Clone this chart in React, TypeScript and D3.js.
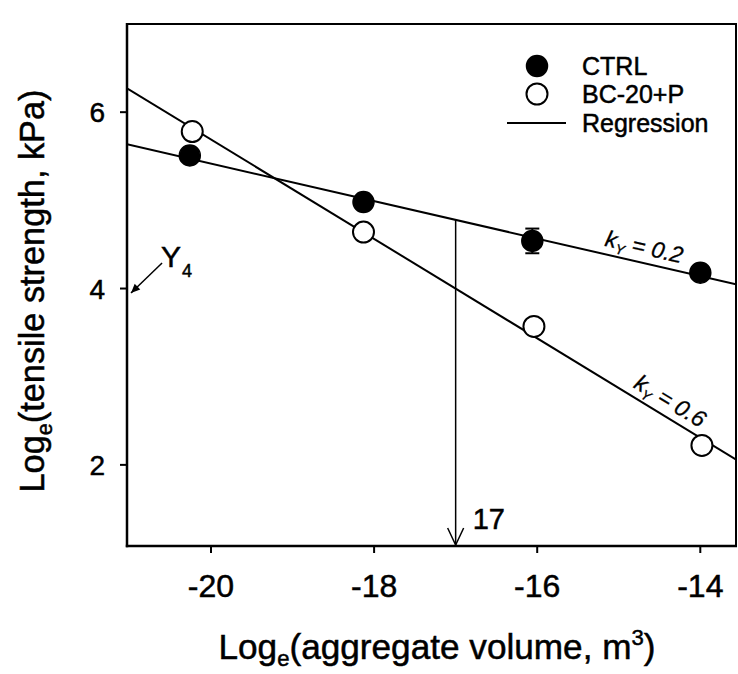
import React from 'react';
import * as d3 from 'd3';

// ---------- data ----------
const xTicks = [-20, -18, -16, -14];
const yTicks = [2, 4, 6];
const ctrlX = [-20.26, -18.13, -16.06, -14.0];
const ctrlY = [5.51, 4.98, 4.54, 4.18];
const ctrlErr = [0, 0, 0.14, 0];
const bcX = [-20.23, -18.13, -16.04, -13.98];
const bcY = [5.78, 4.64, 3.57, 2.22];
const legendLabels = ['CTRL', 'BC-20+P', 'Regression'];
const slopeLabels = ['0.2', '0.6'];
const slopeLabelX = [-14.73, -14.47];
const markerX = -17;
const markerLabel = '17';
const y4Value = 3.95;
const y4Start = [-20.6, 4.29];

const xDomain = [-21.03, -13.55];
const yDomain = [1.08, 7.0];

const W = 738;
const H = 674;
const FONT = '"Liberation Sans", Arial, Helvetica, sans-serif';

function fit(xs: number[], ys: number[]) {
  const mx = d3.mean(xs) as number;
  const my = d3.mean(ys) as number;
  let sxy = 0, sxx = 0;
  xs.forEach((x, i) => { sxy += (x - mx) * (ys[i] - my); sxx += (x - mx) * (x - mx); });
  const b = sxy / sxx;
  const a = my - b * mx;
  return (x: number) => a + b * x;
}

export default function App() {
  const x = d3.scaleLinear().domain(xDomain).range([127, 737]);
  const y = d3.scaleLinear().domain(yDomain).range([546, 24]);
  const ctrlFit = fit(ctrlX, ctrlY);
  const bcFit = fit(bcX, bcY);
  const line = d3.line<[number, number]>().x(d => x(d[0])).y(d => y(d[1]));
  const fitLine = (f: (v: number) => number) =>
    line([[xDomain[0], f(xDomain[0])], [xDomain[1], f(xDomain[1])]]) as string;

  const x0 = x(xDomain[0]);
  const x1 = x(xDomain[1]);
  const yb = y(yDomain[0]);
  const yt = y(yDomain[1]);

  const angle = (f: (v: number) => number) => {
    const dx = x(xDomain[1]) - x(xDomain[0]);
    const dy = y(f(xDomain[1])) - y(f(xDomain[0]));
    return (Math.atan2(dy, dx) * 180) / Math.PI;
  };

  const ax = x(markerX);
  const ay = y(ctrlFit(markerX));

  const y4sx = x(y4Start[0]);
  const y4sy = y(y4Start[1]);
  const y4tx = x0 + 4;
  const y4ty = y(y4Value);
  const ang = Math.atan2(y4ty - y4sy, y4tx - y4sx);
  const ah = 9, aw = 4;
  const headPts = [
    [y4tx, y4ty],
    [y4tx - ah * Math.cos(ang) + aw * Math.sin(ang), y4ty - ah * Math.sin(ang) - aw * Math.cos(ang)],
    [y4tx - ah * Math.cos(ang) - aw * Math.sin(ang), y4ty - ah * Math.sin(ang) + aw * Math.cos(ang)],
  ].map(p => p.join(',')).join(' ');

  const fits = [ctrlFit, bcFit];
  const txt = { stroke: '#000', strokeWidth: 0.5 } as const;

  return (
    <svg width={W} height={H} style={{ position: 'absolute', left: 0, top: 0, background: '#fff' }}
      fontFamily={FONT}>
      <rect x={0} y={0} width={W} height={H} fill="#fff" />
      <defs>
        <clipPath id="plot">
          <rect x={x0} y={yt} width={x1 - x0} height={yb - yt} />
        </clipPath>
      </defs>

      {/* frame */}
      <line x1={x0} y1={yt} x2={x1} y2={yt} stroke="#000" strokeWidth={2} />
      <line x1={x1 - 1} y1={yt} x2={x1 - 1} y2={yb} stroke="#000" strokeWidth={2} />
      <line x1={x0} y1={yt - 1} x2={x0} y2={yb + 1.2} stroke="#000" strokeWidth={2.5} />
      <line x1={x0 - 1.2} y1={yb} x2={x1} y2={yb} stroke="#000" strokeWidth={2.5} />

      {/* ticks */}
      {xTicks.map(t => (
        <g key={'xt' + t}>
          <line x1={x(t)} x2={x(t)} y1={yb} y2={yb + 7} stroke="#000" strokeWidth={2} />
          <text x={x(t)} y={yb + 51} textAnchor="middle" fontSize={32} {...txt}>{t}</text>
        </g>
      ))}
      {yTicks.map(t => (
        <g key={'yt' + t}>
          <line x1={x0 - 7} x2={x0} y1={y(t)} y2={y(t)} stroke="#000" strokeWidth={2} />
          <text x={x0 - 22} y={y(t) + 10} textAnchor="end" fontSize={28} {...txt}>{t}</text>
        </g>
      ))}

      {/* axis titles */}
      <text x={437} y={659} textAnchor="middle" fontSize={35} textLength={437} lengthAdjust="spacingAndGlyphs" {...txt}>
        Log<tspan fontSize={22} dy={7}>e</tspan><tspan dy={-7}>(aggregate volume, m</tspan>
        <tspan fontSize={22} dy={-14}>3</tspan><tspan dy={14}>)</tspan>
      </text>
      <g transform={`translate(44, 291) rotate(-90)`}>
        <text x={0} y={0} textAnchor="middle" fontSize={35} textLength={403} lengthAdjust="spacingAndGlyphs" {...txt}>
          Log<tspan fontSize={22} dy={8}>e</tspan><tspan dy={-8}>(tensile strength, kPa)</tspan>
        </text>
      </g>

      {/* regression lines */}
      <g clipPath="url(#plot)">
        <path d={fitLine(ctrlFit)} stroke="#000" strokeWidth={2} fill="none" />
        <path d={fitLine(bcFit)} stroke="#000" strokeWidth={2} fill="none" />
      </g>

      {/* slope labels */}
      {fits.map((f, i) => (
        <g key={'sl' + i} transform={`translate(${x(slopeLabelX[i])}, ${y(f(slopeLabelX[i]))}) rotate(${angle(f)}) translate(0, -8)`}>
          <text textAnchor="middle" fontSize={23} fontStyle="italic" stroke="#000" strokeWidth={0.3}>
            k<tspan fontSize={14} dy={5}>Y</tspan><tspan dy={-5}>{' = ' + slopeLabels[i]}</tspan>
          </text>
        </g>
      ))}

      {/* arrow at 17 */}
      <line x1={ax} y1={ay} x2={ax} y2={yb - 1} stroke="#000" strokeWidth={1.5} />
      <polyline points={`${ax - 8},${yb - 18} ${ax},${yb - 1} ${ax + 8},${yb - 18}`} fill="none" stroke="#000" strokeWidth={1.5} />
      <text x={ax + 17} y={yb - 17} fontSize={29} {...txt}>{markerLabel}</text>

      {/* Y4 annotation */}
      <line x1={y4sx} y1={y4sy} x2={y4tx} y2={y4ty} stroke="#000" strokeWidth={1.5} />
      <polygon points={headPts} fill="#000" />
      <text x={y4sx - 1} y={y4sy + 4} fontSize={30} {...txt}>Y</text>
      <text x={y4sx + 20} y={y4sy + 14} fontSize={18} {...txt}>4</text>

      {/* error bars */}
      {ctrlX.map((v, i) => ctrlErr[i] > 0 ? (
        <g key={'eb' + i}>
          <line x1={x(v)} x2={x(v)} y1={y(ctrlY[i] - ctrlErr[i])} y2={y(ctrlY[i] + ctrlErr[i])} stroke="#000" strokeWidth={2} />
          <line x1={x(v) - 7} x2={x(v) + 7} y1={y(ctrlY[i] - ctrlErr[i])} y2={y(ctrlY[i] - ctrlErr[i])} stroke="#000" strokeWidth={2} />
          <line x1={x(v) - 7} x2={x(v) + 7} y1={y(ctrlY[i] + ctrlErr[i])} y2={y(ctrlY[i] + ctrlErr[i])} stroke="#000" strokeWidth={2} />
        </g>
      ) : null)}

      {/* markers */}
      {ctrlX.map((v, i) => (
        <circle key={'c' + i} cx={x(v)} cy={y(ctrlY[i])} r={10.5} fill="#000" stroke="#000" strokeWidth={1.5} />
      ))}
      {bcX.map((v, i) => (
        <circle key={'b' + i} cx={x(v)} cy={y(bcY[i])} r={10.5} fill="#fff" stroke="#000" strokeWidth={2} />
      ))}

      {/* legend */}
      <circle cx={537} cy={66} r={10.5} fill="#000" stroke="#000" strokeWidth={1.5} />
      <text x={582} y={75} fontSize={25} {...txt}>{legendLabels[0]}</text>
      <circle cx={537} cy={94} r={10.5} fill="#fff" stroke="#000" strokeWidth={2} />
      <text x={582} y={103} fontSize={25} {...txt}>{legendLabels[1]}</text>
      <line x1={507} x2={566} y1={123} y2={123} stroke="#000" strokeWidth={1.8} />
      <text x={582} y={132} fontSize={25} {...txt}>{legendLabels[2]}</text>
    </svg>
  );
}
